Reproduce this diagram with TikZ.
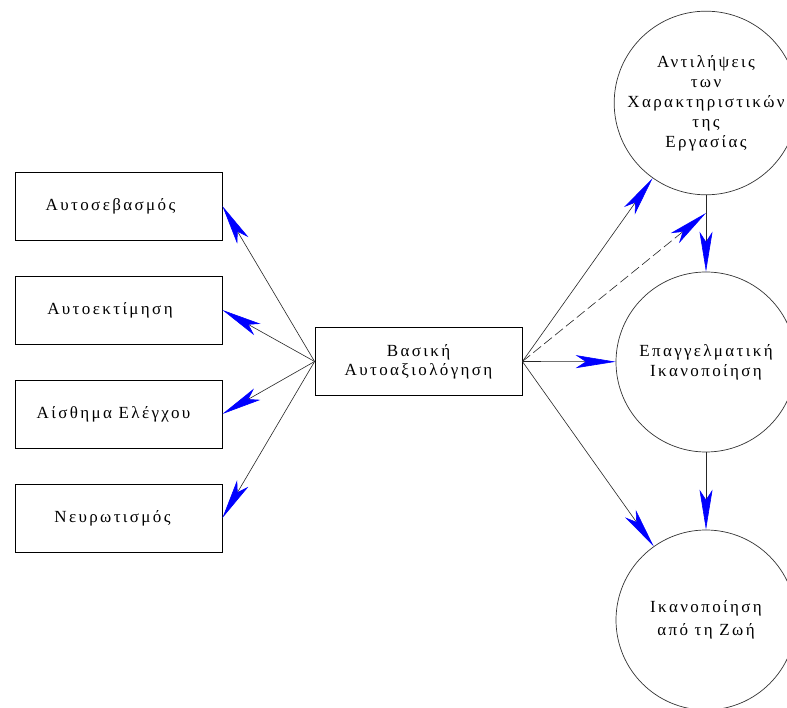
\documentclass[tikz,border=0pt]{standalone}
\usepackage{fontspec}
\setmainfont{Liberation Serif}[LetterSpace=14]
\usetikzlibrary{arrows.meta}
\newcommand\dgtxt{\fontsize{17}{20}\selectfont}
\tikzset{
  box/.style={draw=black, line width=0.8pt, minimum width=207pt, minimum height=68pt, inner sep=0pt, align=center, font=\dgtxt},
  circ/.style={circle, draw=black!80, line width=0.7pt, minimum size=180pt, inner sep=0pt, align=center, font=\dgtxt},
  link/.style={draw=black!85, line width=0.6pt, -{Stealth[length=40pt,width=13pt,inset=10pt,color=blue,fill=blue]}},
}
\begin{document}
\begin{tikzpicture}[x=1pt,y=-1pt]
\fill[white] (0,0) rectangle (787,708);
\useasboundingbox (0,0) rectangle (787,708);
\node[box] (c) at (418.5,361.5) {Βασική\\[-1pt]Αυτοαξιολόγηση\hspace{7pt}};
\node[box] (l1) at (118.5,206) {Αυτοσεβασμός\hspace{16pt}};
\node[box] (l2) at (118.5,310) {Αυτοεκτίμηση\hspace{17pt}};
\node[box] (l3) at (118.5,414) {Αίσθημα Ελέγχου\hspace{10pt}};
\node[box] (l4) at (118.5,518) {Νευρωτισμός\hspace{12pt}};
\node[circ] (t) at (706,103) {Αντιλήψεις\\των\\Χαρακτηριστικών\\της\\Εργασίας};
\node[circ] (m) at (706,362) {Επαγγελματική\\Ικανοποίηση};
\node[circ] (b) at (706,620) {Ικανοποίηση\\[3pt]από τη Ζωή};
\coordinate (d) at (706,213);
\draw[link] (c.west) -- (l1.east);
\draw[link] (c.west) -- (l2.east);
\draw[link] (c.west) -- (l3.east);
\draw[link] (c.west) -- (l4.east);
\draw[link] (c.east) -- (t);
\draw[link, dash pattern=on 10pt off 4pt] (c.east) -- (d);
\draw[link] (c.east) -- (m);
\draw[link] (c.east) -- (b);
\draw[link] (t.south) -- (m.north);
\draw[link] (m.south) -- (b.north);
\end{tikzpicture}
\end{document}
